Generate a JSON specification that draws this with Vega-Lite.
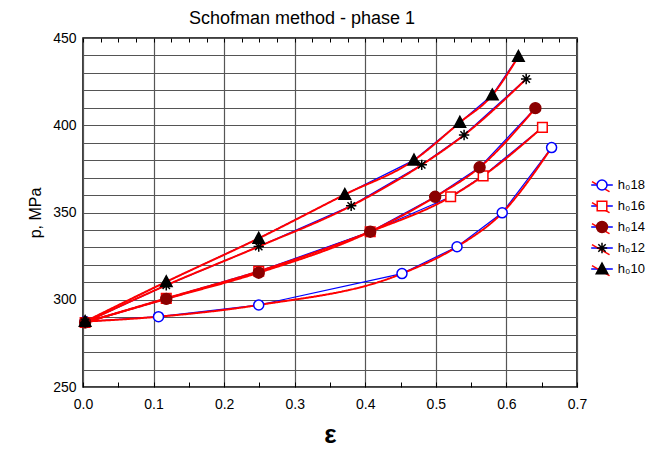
{
  "$schema": "https://vega.github.io/schema/vega-lite/v6.json",
  "width": 494,
  "height": 349,
  "autosize": "none",
  "padding": {"left": 83, "top": 38, "right": 83, "bottom": 66},
  "background": "white",
  "title": {"text": "Schofman method - phase 1", "anchor": "start", "frame": "group", "dx": 106, "dy": 25, "fontSize": 18, "font": "Liberation Sans", "fontWeight": "normal", "color": "black", "baseline": "alphabetic", "offset": 14},
  "config": {"view": {"stroke": "black", "strokeWidth": 1.5}, "font": "Liberation Sans"},
  "data": {"values": [
    {"series": "h₀18", "e": 0.003, "p": 287.5},
    {"series": "h₀18", "e": 0.107, "p": 290.3},
    {"series": "h₀18", "e": 0.249, "p": 297},
    {"series": "h₀18", "e": 0.452, "p": 315},
    {"series": "h₀18", "e": 0.530, "p": 330.4},
    {"series": "h₀18", "e": 0.594, "p": 349.8},
    {"series": "h₀18", "e": 0.664, "p": 387.2},
    {"series": "h₀16", "e": 0.003, "p": 287},
    {"series": "h₀16", "e": 0.118, "p": 300.8},
    {"series": "h₀16", "e": 0.249, "p": 316.3},
    {"series": "h₀16", "e": 0.407, "p": 339},
    {"series": "h₀16", "e": 0.521, "p": 359},
    {"series": "h₀16", "e": 0.567, "p": 371},
    {"series": "h₀16", "e": 0.651, "p": 398.8},
    {"series": "h₀14", "e": 0.003, "p": 287},
    {"series": "h₀14", "e": 0.118, "p": 300.5},
    {"series": "h₀14", "e": 0.249, "p": 315.5},
    {"series": "h₀14", "e": 0.407, "p": 339},
    {"series": "h₀14", "e": 0.499, "p": 359},
    {"series": "h₀14", "e": 0.562, "p": 375.9},
    {"series": "h₀14", "e": 0.641, "p": 409.8},
    {"series": "h₀12", "e": 0.003, "p": 287},
    {"series": "h₀12", "e": 0.118, "p": 308.3},
    {"series": "h₀12", "e": 0.249, "p": 330.5},
    {"series": "h₀12", "e": 0.380, "p": 353.8},
    {"series": "h₀12", "e": 0.480, "p": 377.3},
    {"series": "h₀12", "e": 0.540, "p": 394.4},
    {"series": "h₀12", "e": 0.628, "p": 426.5},
    {"series": "h₀10", "e": 0.003, "p": 287.5},
    {"series": "h₀10", "e": 0.118, "p": 310.3},
    {"series": "h₀10", "e": 0.249, "p": 335.2},
    {"series": "h₀10", "e": 0.371, "p": 360.3},
    {"series": "h₀10", "e": 0.469, "p": 380},
    {"series": "h₀10", "e": 0.534, "p": 401.6},
    {"series": "h₀10", "e": 0.580, "p": 417.3},
    {"series": "h₀10", "e": 0.617, "p": 439.4}
  ]},
  "encoding": {
    "x": {
      "field": "e", "type": "quantitative",
      "scale": {"domain": [0, 0.7], "nice": false, "zero": false},
      "axis": {
        "orient": "bottom",
        "values": [0, 0.05, 0.1, 0.15, 0.2, 0.25, 0.3, 0.35, 0.4, 0.45, 0.5, 0.55, 0.6, 0.65, 0.7],
        "labelExpr": "round(datum.value*100) % 10 == 0 ? format(datum.value, '.1f') : ''",
        "labelOverlap": false, "labelFlush": false,
        "grid": true, "gridColor": "#555555", "gridWidth": 1.2,
        "gridOpacity": {"condition": {"test": "round(datum.value*100) % 10 != 0", "value": 0}, "value": 1},
        "domain": false, "ticks": true, "tickSize": -5, "tickColor": "black", "tickWidth": 1,
        "labelFontSize": 14, "labelColor": "black", "labelPadding": 15, "labelFont": "Liberation Sans",
        "title": "ε", "titleFontSize": 26, "titleFontWeight": "bold", "titleColor": "black", "titlePadding": 10, "titleFont": "Liberation Sans"
      }
    },
    "y": {
      "field": "p", "type": "quantitative",
      "scale": {"domain": [250, 450], "nice": false, "zero": false},
      "axis": {
        "values": [250, 260, 270, 280, 290, 300, 310, 320, 330, 340, 350, 360, 370, 380, 390, 400, 410, 420, 430, 440, 450],
        "labelExpr": "datum.value % 50 == 0 ? datum.value : ''",
        "labelOverlap": false, "labelFlush": false,
        "grid": true, "gridColor": "#555555", "gridWidth": 1.2,
        "domain": false, "ticks": false,
        "labelFontSize": 14, "labelColor": "black", "labelPadding": 7, "labelFont": "Liberation Sans",
        "title": "p, MPa", "titleFontSize": 16, "titleFontWeight": "normal", "titleColor": "black", "titlePadding": 9, "titleFont": "Liberation Sans"
      }
    }
  },
  "layer": [
    {
      "layer": [
        {
          "mark": {"type": "line", "strokeWidth": 1.2},
          "encoding": {
            "color": {
              "field": "series", "type": "nominal",
              "scale": {"domain": ["h₀18", "h₀16", "h₀14", "h₀12", "h₀10", "b"], "range": ["#0000ff", "#0000ff", "#0000ff", "#0000ff", "#0000ff", "#0000ff"]},
              "legend": {"values": ["h₀18", "h₀16", "h₀14", "h₀12", "h₀10"], "orient": "none", "legendX": 510, "legendY": 138, "title": null, "padding": 0, "symbolSize": 256, "symbolStrokeWidth": 1.5, "symbolType": "M-1.35,0L1.35,0M-1.4,-1.1M1.4,1.1", "symbolFillColor": "transparent", "labelFontSize": 13, "labelColor": "transparent", "labelOffset": 6.8, "rowPadding": -4, "labelFont": "Liberation Sans"}
            }
          }
        },
        {
          "mark": {"type": "line", "strokeWidth": 2, "interpolate": "monotone", "color": "#ff0000"},
          "encoding": {
            "strokeDash": {
              "field": "series", "type": "nominal",
              "scale": {"domain": ["h₀18", "h₀16", "h₀14", "h₀12", "h₀10", "r"], "range": [[1, 0], [1, 0], [1, 0], [1, 0], [1, 0], [1, 0]]},
              "legend": {"values": ["h₀18", "h₀16", "h₀14", "h₀12", "h₀10"], "orient": "none", "legendX": 510, "legendY": 138, "title": null, "padding": 0, "symbolSize": 256, "symbolStrokeWidth": 1.5, "symbolStrokeColor": "#ff0000", "symbolType": "M-1.25,-0.42L0.95,0.84M-1.4,-1.1M1.4,1.1", "symbolFillColor": "transparent", "labelFontSize": 13, "labelColor": "transparent", "labelOffset": 6.8, "rowPadding": -4, "labelFont": "Liberation Sans"}
            }
          }
        }
      ]
    },
    {
      "mark": {"type": "point", "size": 256, "strokeWidth": 1.5, "opacity": 1, "filled": true},
      "encoding": {
        "x": {
          "field": "e", "type": "quantitative",
          "scale": {"domain": [0, 0.7], "nice": false, "zero": false},
          "axis": {
            "orient": "top",
            "values": [0, 0.025, 0.05, 0.075, 0.1, 0.125, 0.15, 0.175, 0.2, 0.225, 0.25, 0.275, 0.3, 0.325, 0.35, 0.375, 0.4, 0.425, 0.45, 0.475, 0.5, 0.525, 0.55, 0.575, 0.6, 0.625, 0.65, 0.675, 0.7],
            "labels": false, "grid": false, "domain": false, "ticks": true, "tickSize": -4, "tickColor": "black", "tickWidth": 1, "title": null
          }
        },
        "shape": {
          "field": "series", "type": "nominal",
          "scale": {"domain": ["h₀18", "h₀16", "h₀14", "h₀12", "h₀10"], "range": [
            "M0.625,0A0.625,0.625 0 1,1 -0.625,0A0.625,0.625 0 1,1 0.625,0ZM-1.4,-1.1M1.4,1.1",
            "M-0.6,-0.6L0.6,-0.6L0.6,0.6L-0.6,0.6ZM-1.4,-1.1M1.4,1.1",
            "M0.68,0A0.68,0.68 0 1,1 -0.68,0A0.68,0.68 0 1,1 0.68,0ZM-1.4,-1.1M1.4,1.1",
            "M0,-0.65L0,0.65M-0.65,0L0.65,0M-0.46,-0.46L0.46,0.46M-0.46,0.46L0.46,-0.46M-1.4,-1.1M1.4,1.1",
            "M0,-0.75L0.72,0.6L-0.72,0.6ZM-1.4,-1.1M1.4,1.1"
          ]},
          "legend": {"orient": "none", "legendX": 510, "legendY": 138, "title": null, "padding": 0, "symbolSize": 256, "symbolStrokeWidth": 1.5, "labelFontSize": 13, "labelColor": "black", "labelOffset": 6.8, "rowPadding": -4, "labelFont": "Liberation Sans"}
        },
        "fill": {
          "field": "series", "type": "nominal",
          "scale": {"domain": ["h₀18", "h₀16", "h₀14", "h₀12", "h₀10"], "range": ["#ffffff", "#ffffff", "#8b0000", "#000000", "#000000"]},
          "legend": {"orient": "none", "legendX": 510, "legendY": 138, "title": null, "padding": 0, "symbolSize": 256, "symbolStrokeWidth": 1.5, "labelFontSize": 13, "labelColor": "black", "labelOffset": 6.8, "rowPadding": -4, "labelFont": "Liberation Sans"}
        },
        "stroke": {
          "field": "series", "type": "nominal",
          "scale": {"domain": ["h₀18", "h₀16", "h₀14", "h₀12", "h₀10"], "range": ["#0000ff", "#ff0000", "#8b0000", "#000000", "#000000"]},
          "legend": {"orient": "none", "legendX": 510, "legendY": 138, "title": null, "padding": 0, "symbolSize": 256, "symbolStrokeWidth": 1.5, "labelFontSize": 13, "labelColor": "black", "labelOffset": 6.8, "rowPadding": -4, "labelFont": "Liberation Sans"}
        }
      }
    }
  ],
  "resolve": {"axis": {"x": "independent"}}
}
